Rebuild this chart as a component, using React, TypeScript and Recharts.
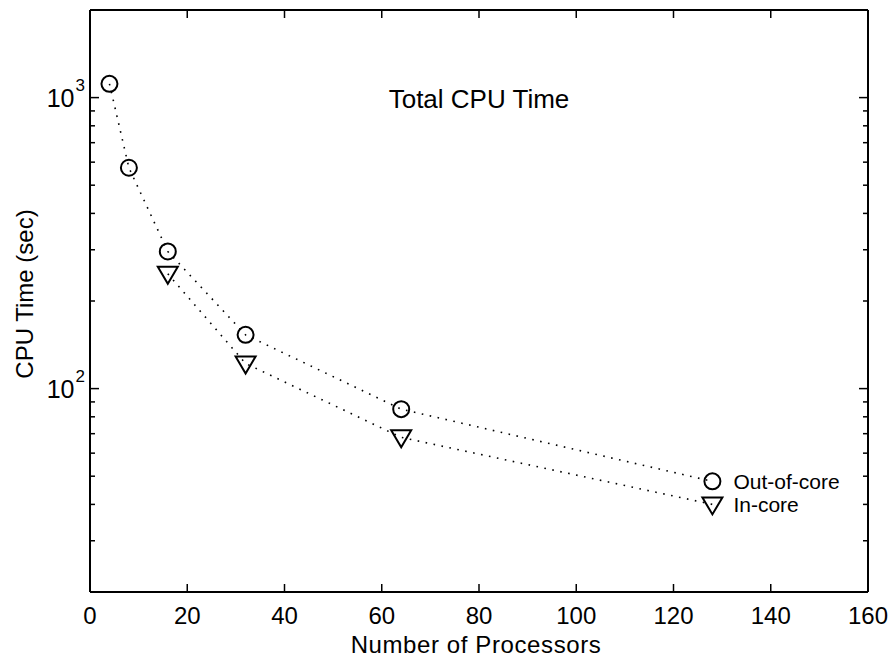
import { Line, LineChart, LabelList, XAxis, YAxis } from "recharts";

const procsOut = [4, 8, 16, 32, 64, 128];
const outOfCore = [1115, 574, 296, 153, 85, 48];
const procsIn = [16, 32, 64, 128];
const inCore = [248, 122, 68, 40];

const xTicks = [0, 20, 40, 60, 80, 100, 120, 140, 160];
const yTicks = [20, 30, 40, 50, 60, 70, 80, 90, 100, 200, 300, 400, 500, 600, 700, 800, 900, 1000, 2000];
const yMajor: Record<number, string> = { 100: "2", 1000: "3" };

const outRows = procsOut.map((x, i) => ({ x, t: outOfCore[i] }));
const inRows = procsIn.map((x, i) => ({ x, t: inCore[i] }));

const FONT = '"Liberation Sans", Arial, Helvetica, sans-serif';
const INK = "#000";

function BottomTick({ x, y, payload }: any) {
  return (
    <g>
      <line x1={x} y1={y} x2={x} y2={y - 8} stroke={INK} strokeWidth={1.5} />
      <text x={x} y={y + 32} textAnchor="middle" fontSize={24} fontFamily={FONT} fill={INK}>
        {payload.value}
      </text>
    </g>
  );
}

function TopTick({ x, y }: any) {
  return <line x1={x} y1={y} x2={x} y2={y + 8} stroke={INK} strokeWidth={1.5} />;
}

function LeftTick({ x, y, payload }: any) {
  const sup = yMajor[payload.value];
  return (
    <g>
      <line x1={x} y1={y} x2={x + (sup ? 9 : 5)} y2={y} stroke={INK} strokeWidth={1.5} />
      {sup && (
        <text x={x - 5} y={y + 9} textAnchor="end" fontSize={25} fontFamily={FONT} fill={INK}>
          <tspan>10</tspan>
          <tspan dy={-16} dx={1} fontSize={17}>
            {sup}
          </tspan>
        </text>
      )}
    </g>
  );
}

function RightTick({ x, y, payload }: any) {
  const len = yMajor[payload.value] ? 9 : 5;
  return <line x1={x} y1={y} x2={x - len} y2={y} stroke={INK} strokeWidth={1.5} />;
}

function CircleDot({ cx, cy }: any) {
  return <circle cx={cx} cy={cy} r={8} fill="none" stroke={INK} strokeWidth={2} />;
}

function TriangleDot({ cx, cy }: any) {
  return (
    <polygon
      points={`${cx - 10},${cy - 7} ${cx + 10},${cy - 7} ${cx},${cy + 10}`}
      fill="none"
      stroke={INK}
      strokeWidth={2}
    />
  );
}

function endLabel(text: string, last: number) {
  return ({ x, y, index }: any) =>
    index === last ? (
      <text x={x + 21} y={y + 8} fontSize={21} fontFamily={FONT} fill={INK}>
        {text}
      </text>
    ) : null;
}

export default function App() {
  return (
    <div style={{ position: "absolute", left: 0, top: 0, width: 891, height: 659, background: "#fff" }}>
      <LineChart width={891} height={659} margin={{ top: 0, right: 0, bottom: 0, left: 0 }}>
        <XAxis
          type="number"
          dataKey="x"
          domain={[0, 160]}
          ticks={xTicks}
          interval={0}
          height={67}
          tickSize={0}
          tickMargin={0}
          tick={<BottomTick />}
          axisLine={{ stroke: INK, strokeWidth: 2 }}
          allowDataOverflow
        />
        <XAxis
          xAxisId="top"
          orientation="top"
          type="number"
          dataKey="x"
          domain={[0, 160]}
          ticks={xTicks}
          interval={0}
          height={10}
          tickSize={0}
          tickMargin={0}
          tick={<TopTick />}
          axisLine={{ stroke: INK, strokeWidth: 2 }}
          allowDataOverflow
        />
        <YAxis
          type="number"
          scale="log"
          domain={[20, 2000]}
          ticks={yTicks}
          interval={0}
          width={90}
          tickSize={0}
          tickMargin={0}
          tick={<LeftTick />}
          axisLine={{ stroke: INK, strokeWidth: 2 }}
          allowDataOverflow
        />
        <YAxis
          yAxisId="right"
          orientation="right"
          type="number"
          scale="log"
          domain={[20, 2000]}
          ticks={yTicks}
          interval={0}
          width={23}
          tickSize={0}
          tickMargin={0}
          tick={<RightTick />}
          axisLine={{ stroke: INK, strokeWidth: 2 }}
          allowDataOverflow
        />
        <Line
          data={outRows}
          dataKey="t"
          stroke={INK}
          strokeWidth={1.6}
          strokeDasharray="1.6 6.5"
          dot={<CircleDot />}
          activeDot={false}
          isAnimationActive={false}
        >
          <LabelList dataKey="t" content={endLabel("Out-of-core", procsOut.length - 1)} />
        </Line>
        <Line
          data={inRows}
          dataKey="t"
          stroke={INK}
          strokeWidth={1.6}
          strokeDasharray="1.6 6.5"
          dot={<TriangleDot />}
          activeDot={false}
          isAnimationActive={false}
        >
          <LabelList dataKey="t" content={endLabel("In-core", procsIn.length - 1)} />
        </Line>
      </LineChart>
      <svg
        width={891}
        height={659}
        style={{ position: "absolute", left: 0, top: 0, pointerEvents: "none" }}
        fontFamily={FONT}
        fill={INK}
      >
        <text x={479} y={108} textAnchor="middle" fontSize={26}>
          Total CPU Time
        </text>
        <text x={476} y={653} textAnchor="middle" fontSize={24} letterSpacing={0.6}>
          Number of Processors
        </text>
        <text x={33} y={294} textAnchor="middle" fontSize={24} transform="rotate(-90 33 294)">
          CPU Time (sec)
        </text>
      </svg>
    </div>
  );
}
